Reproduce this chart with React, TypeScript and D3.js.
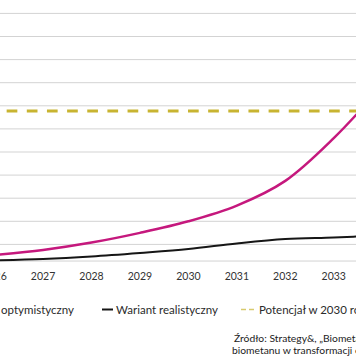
import React from "react";
import * as d3 from "d3";

const years = [2026, 2027, 2028, 2029, 2030, 2031, 2032, 2033, 2034];
const optimistic = [0.54, 0.76, 1.08, 1.5, 2.0, 2.68, 3.75, 5.6, 7.86];
const realistic = [0.31, 0.37, 0.48, 0.63, 0.8, 1.04, 1.23, 1.3, 1.39];
const potential2030 = 6.77;
const gridValues = [1, 2, 3, 4, 5, 6, 7, 8, 9, 10, 11];
const baselineValue = 0.28;
const xTickLabels = ["2026", "2027", "2028", "2029", "2030", "2031", "2032", "2033", "2034"];
const legendLabels = ["Wariant optymistyczny", "Wariant realistyczny", "Potencjał w 2030 roku"];
const sourceLines = [
  "Źródło: Strategy&, „Biometan – potencjał",
  "biometanu w transformacji energetycznej",
];

const W = 356;
const H = 364;
const MAGENTA = "#c5187d";
const BLACK = "#161616";
const GOLD = "#c8b431";
const GRID = "#d3d3d3";
const FONT = "Lato, 'Open Sans', sans-serif";

export default function App() {
  const x = d3.scaleLinear().domain([2026, 2034]).range([-5.4, 382.2]);
  const y = d3.scaleLinear().domain([0, 11]).range([267.5, 13.4]);

  const line = d3
    .line<number>()
    .x((_, i) => x(years[i]))
    .y((d) => y(d))
    .curve(d3.curveCatmullRom.alpha(0.5));

  const gx0 = x(2026) - 30;
  const gx1 = x(2034) + 30;

  return (
    <div style={{ position: "fixed", left: 0, top: 0, width: W, height: H, background: "#fff" }}>
      <svg width={W} height={H} style={{ display: "block" }} fontFamily={FONT}>
        <rect x={0} y={0} width={W} height={H} fill="#fff" />
        {gridValues.map((v) => (
          <line key={v} x1={gx0} x2={gx1} y1={y(v)} y2={y(v)} stroke={GRID} strokeWidth={1} />
        ))}
        <line x1={gx0} x2={gx1} y1={y(baselineValue)} y2={y(baselineValue)} stroke={GRID} strokeWidth={1} />
        <line
          x1={-13.5}
          x2={gx1}
          y1={y(potential2030)}
          y2={y(potential2030)}
          stroke={GOLD}
          strokeWidth={3}
          strokeDasharray="10.7 9.45"
        />
        <path d={line(realistic) || ""} fill="none" stroke={BLACK} strokeWidth={2} />
        <path d={line(optimistic) || ""} fill="none" stroke={MAGENTA} strokeWidth={2.5} />
        {years.map((yr, i) => (
          <text
            key={yr}
            x={x(yr)}
            y={279.5}
            textAnchor="middle"
            fontSize={10.5}
            fill="#333"
          >
            {xTickLabels[i]}
          </text>
        ))}
        {/* Legend */}
        <g fontSize={11.5} fill="#2b2b2b">
          <line x1={-40} x2={-29} y1={309.5} y2={309.5} stroke={MAGENTA} strokeWidth={2} />
          <text x={74} y={313.5} textAnchor="end">
            {legendLabels[0]}
          </text>
          <line x1={102} x2={113} y1={309.5} y2={309.5} stroke={BLACK} strokeWidth={2} />
          <text x={116} y={313.5}>
            {legendLabels[1]}
          </text>
          <line x1={241} x2={246} y1={309.5} y2={309.5} stroke={GOLD} strokeWidth={1.5} opacity={0.7} />
          <line x1={249} x2={254} y1={309.5} y2={309.5} stroke={GOLD} strokeWidth={1.5} opacity={0.7} />
          <text x={259} y={313.5}>
            {legendLabels[2]}
          </text>
        </g>
        <g fontSize={10.3} fill="#222">
          <text x={234} y={341.5}>
            {sourceLines[0]}
          </text>
          <text x={232} y={354}>
            {sourceLines[1]}
          </text>
        </g>
      </svg>
    </div>
  );
}
